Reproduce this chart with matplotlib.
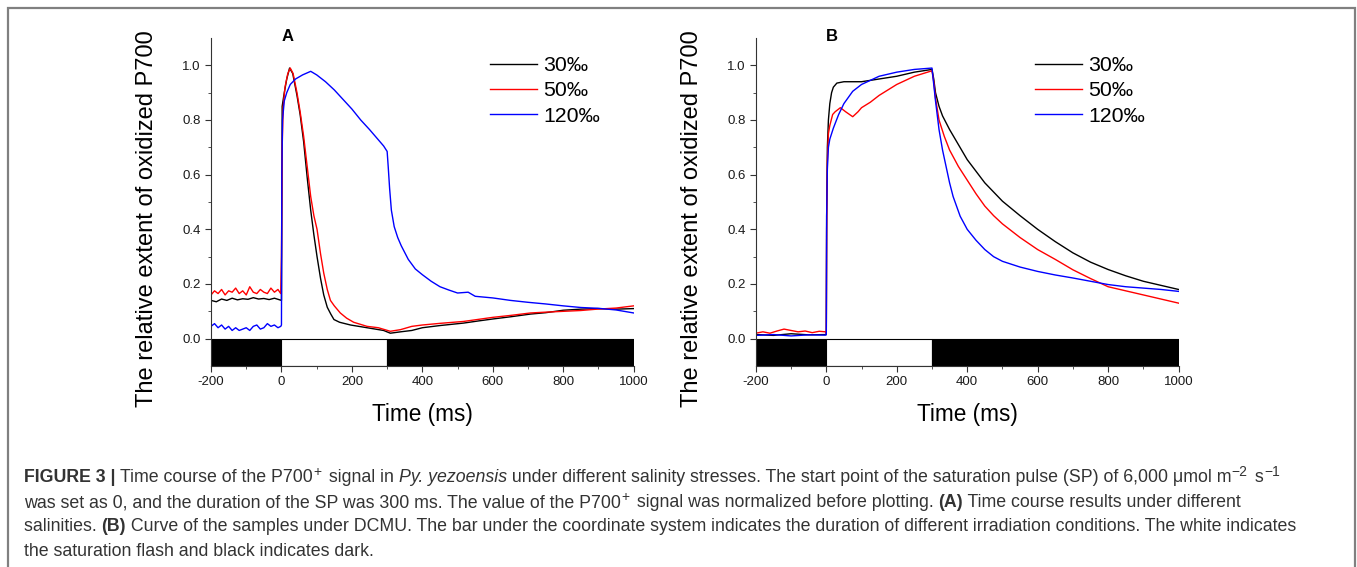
import numpy as np
import matplotlib.pyplot as plt
from matplotlib.ticker import MultipleLocator, FixedLocator
from matplotlib.patches import Rectangle

plt.rcParams['font.family'] = ['Liberation Sans', 'DejaVu Sans']
plt.rcParams['axes.unicode_minus'] = False

labels = ['30‰', '50‰', '120‰']
colors = ['black', 'red', 'blue']

# bar under the axes: dark / saturation flash / dark
bar_start = [-200, 0, 300]
bar_end = [0, 300, 1000]
bar_color = ['black', 'white', 'black']

# ---- panel A ----
t_a_30 = [-200, -185, -170, -155, -140, -125, -110, -95, -80, -65, -50, -35, -20, -5, 0,
          2, 8, 15, 23, 32, 44, 53, 63, 73, 83, 92, 101, 111, 120, 130, 140, 149, 165,
          196, 243, 290, 309, 338, 370, 400, 450, 517, 560, 600, 650, 707, 750, 800,
          850, 896, 950, 1000]
y_a_30 = [0.14, 0.135, 0.145, 0.14, 0.148, 0.142, 0.146, 0.144, 0.15, 0.145, 0.147, 0.143, 0.148, 0.142, 0.14,
          0.85, 0.9, 0.95, 0.99, 0.97, 0.89, 0.82, 0.72, 0.59, 0.47, 0.38, 0.3, 0.22, 0.16, 0.115, 0.09, 0.07, 0.06,
          0.05, 0.04, 0.03, 0.02, 0.025, 0.03, 0.04, 0.048, 0.057, 0.065, 0.072, 0.08, 0.09, 0.095, 0.104,
          0.108, 0.11, 0.108, 0.11]

t_a_50 = [-200, -190, -180, -170, -160, -150, -140, -130, -120, -110, -100, -90, -80, -70, -60, -50,
          -40, -30, -20, -10, -2, 0, 2, 5, 10, 18, 25, 33, 44, 53, 63, 73, 83, 92, 101, 111, 120,
          130, 139, 150, 167, 185, 205, 243, 275, 309, 338, 370, 400, 450, 517, 600, 650, 707, 750,
          800, 850, 896, 950, 1000]
y_a_50 = [0.16, 0.175, 0.165, 0.18, 0.16, 0.175, 0.17, 0.185, 0.165, 0.175, 0.16, 0.19, 0.17, 0.165, 0.18, 0.17,
          0.165, 0.185, 0.17, 0.18, 0.165, 0.3, 0.7, 0.85, 0.92, 0.97, 0.99, 0.97, 0.9, 0.83, 0.74, 0.63, 0.52, 0.45, 0.4, 0.31, 0.24,
          0.18, 0.14, 0.12, 0.094, 0.075, 0.06, 0.045, 0.04, 0.027, 0.033, 0.045, 0.05, 0.056, 0.063, 0.078, 0.085, 0.094, 0.097,
          0.1, 0.103, 0.108, 0.112, 0.12]

t_a_120 = [-200, -190, -180, -170, -160, -150, -140, -130, -120, -110, -100, -90, -80, -70, -60, -50,
           -40, -30, -20, -10, -2, 0, 1, 3, 8, 15, 25, 40, 60, 83, 100, 125, 150, 175, 200, 225, 250,
           270, 290, 300, 303, 307, 312, 320, 330, 340, 360, 380, 400, 425, 450, 475, 500, 530, 550, 600,
           650, 700, 750, 800, 850, 900, 950, 1000]
y_a_120 = [0.045, 0.055, 0.04, 0.05, 0.035, 0.045, 0.03, 0.04, 0.03, 0.035, 0.04, 0.03, 0.045, 0.05, 0.035, 0.04,
           0.055, 0.045, 0.05, 0.04, 0.045, 0.05, 0.6, 0.8, 0.87, 0.9, 0.93, 0.95, 0.965, 0.978, 0.965, 0.94, 0.91, 0.875, 0.84, 0.8, 0.765,
           0.735, 0.705, 0.685, 0.63, 0.55, 0.47, 0.41, 0.37, 0.34, 0.29, 0.255, 0.234, 0.21, 0.19, 0.178, 0.167, 0.17, 0.155, 0.149,
           0.14, 0.133, 0.127, 0.12, 0.114, 0.111, 0.105, 0.094]

# ---- panel B ----
t_b_30 = [-200, -150, -100, -50, -2, 0, 1, 3, 6, 10, 15, 20, 30, 50, 100, 150, 200, 250, 300,
          305, 310, 320, 330, 350, 375, 400, 450, 500, 550, 600, 650, 700, 750, 800, 850, 900, 950, 1000]
y_b_30 = [0.015, 0.012, 0.018, 0.014, 0.015, 0.015, 0.45, 0.7, 0.8, 0.86, 0.9, 0.92, 0.935, 0.94, 0.94, 0.95, 0.96, 0.975, 0.985,
          0.95, 0.9, 0.85, 0.815, 0.765, 0.71, 0.655, 0.57, 0.503, 0.45, 0.4, 0.355, 0.314, 0.28, 0.253, 0.23, 0.21, 0.195, 0.18]

t_b_50 = [-200, -180, -160, -140, -120, -100, -80, -60, -40, -20, -2, 0, 1, 3, 6, 10, 18, 25, 40, 55, 75, 90,
          100, 125, 150, 175, 200, 225, 250, 275, 300, 305, 310, 320, 335, 350, 375, 400, 425, 450, 475,
          500, 550, 600, 650, 700, 750, 800, 850, 900, 950, 1000]
y_b_50 = [0.02, 0.025, 0.02, 0.028, 0.035, 0.03, 0.025, 0.028, 0.022, 0.027, 0.025, 0.02, 0.4, 0.65, 0.75, 0.78, 0.82, 0.83, 0.845, 0.83, 0.812, 0.83,
          0.845, 0.865, 0.89, 0.91, 0.93, 0.945, 0.96, 0.97, 0.98, 0.94, 0.88, 0.8, 0.74, 0.69, 0.63, 0.58, 0.53, 0.485, 0.45,
          0.42, 0.37, 0.326, 0.29, 0.252, 0.22, 0.19, 0.175, 0.16, 0.145, 0.13]

t_b_120 = [-200, -150, -100, -50, -2, 0, 1, 3, 6, 10, 20, 35, 50, 75, 100, 125, 150, 200, 250, 300,
           305, 310, 320, 330, 340, 350, 360, 380, 400, 425, 450, 475, 500, 550, 600, 650, 700, 750,
           800, 850, 900, 950, 1000]
y_b_120 = [0.012, 0.015, 0.01, 0.014, 0.013, 0.015, 0.45, 0.62, 0.7, 0.73, 0.77, 0.82, 0.86, 0.905, 0.93, 0.945, 0.96, 0.975, 0.985, 0.99,
           0.93, 0.87, 0.765, 0.69, 0.63, 0.57, 0.52, 0.448, 0.4, 0.36, 0.326, 0.3, 0.283, 0.262, 0.246, 0.233, 0.222, 0.21,
           0.198, 0.19, 0.185, 0.18, 0.173]

panels = [
    ('A', [(t_a_30, y_a_30), (t_a_50, y_a_50), (t_a_120, y_a_120)]),
    ('B', [(t_b_30, y_b_30), (t_b_50, y_b_50), (t_b_120, y_b_120)]),
]

fig = plt.figure(figsize=(13.57, 5.67), dpi=100)
axes_left = [0.1555, 0.557]

for (letter, series), left in zip(panels, axes_left):
    ax = fig.add_axes([left, 0.3545, 0.3115, 0.5785])
    for (t, y), lab, c in zip(series, labels, colors):
        ax.plot(t, y, color=c, lw=1.0, label=lab)
    for s, e, c in zip(bar_start, bar_end, bar_color):
        ax.barh(-0.05, e - s, left=s, height=0.1, color=c, edgecolor='black', lw=0.8)

    ax.set_xlim(-200, 1000)
    ax.set_ylim(-0.1, 1.1)
    ax.xaxis.set_major_locator(MultipleLocator(200))
    ax.xaxis.set_minor_locator(MultipleLocator(100))
    ax.yaxis.set_major_locator(FixedLocator([0.0, 0.2, 0.4, 0.6, 0.8, 1.0]))
    ax.yaxis.set_minor_locator(FixedLocator([0.1, 0.3, 0.5, 0.7, 0.9]))
    ax.yaxis.set_major_formatter(plt.FormatStrFormatter('%.1f'))
    ax.tick_params(which='both', direction='out', labelsize=9.5, color='#333333', labelcolor='#1a1a1a')
    ax.tick_params(which='major', length=4)
    ax.tick_params(which='minor', length=2.5)
    for side in ['top', 'right']:
        ax.spines[side].set_visible(False)
    for side in ['left', 'bottom']:
        ax.spines[side].set_color('#333333')

    ax.set_xlabel('Time (ms)', fontsize=16.3)
    ax.set_ylabel('The relative extent of oxidized P700', fontsize=17)
    ax.xaxis.set_label_coords(0.5, -0.149)
    ax.xaxis.label.set_va('center')
    ax.yaxis.set_label_coords(-0.152, 0.45)
    ax.yaxis.label.set_va('center')

    ax.text(0.18, 1.006, letter, transform=ax.transAxes, fontsize=12, fontweight='bold',
            ha='center', va='center')
    ax.legend(loc='upper left', bbox_to_anchor=(0.661, 0.945), frameon=False, fontsize=15.3,
              handlelength=2.2, handletextpad=0.28, labelspacing=0.3, borderpad=0, borderaxespad=0)

# outer frame
fig.patches.append(Rectangle((8 / 1357, -0.1), 1347 / 1357, 1.1 - 8 / 567, transform=fig.transFigure,
                             fill=False, edgecolor='#808080', lw=1.6))

# caption, written run by run
cap_lines = [
    [('FIGURE 3 | ', 'bold', 'normal', 0), ('Time course of the P700', 'normal', 'normal', 0), ('+', 'normal', 'normal', 1),
     (' signal in ', 'normal', 'normal', 0), ('Py. yezoensis', 'normal', 'italic', 0),
     (' under different salinity stresses. The start point of the saturation pulse (SP) of 6,000 \u03bcmol m', 'normal', 'normal', 0),
     ('\u22122', 'normal', 'normal', 1), (' s', 'normal', 'normal', 0), ('\u22121', 'normal', 'normal', 1)],
    [('was set as 0, and the duration of the SP was 300 ms. The value of the P700', 'normal', 'normal', 0), ('+', 'normal', 'normal', 1),
     (' signal was normalized before plotting. ', 'normal', 'normal', 0), ('(A)', 'bold', 'normal', 0),
     (' Time course results under different', 'normal', 'normal', 0)],
    [('salinities. ', 'normal', 'normal', 0), ('(B)', 'bold', 'normal', 0),
     (' Curve of the samples under DCMU. The bar under the coordinate system indicates the duration of different irradiation conditions. The white indicates', 'normal', 'normal', 0)],
    [('the saturation flash and black indicates dark.', 'normal', 'normal', 0)],
]
cap_y = [482, 507, 531, 556]
cap_size = 12.8

renderer = fig.canvas.get_renderer()
for runs, yb in zip(cap_lines, cap_y):
    x = 24
    for txt, w, st, sup in runs:
        size = cap_size * 0.78 if sup else cap_size
        ypix = yb - (6 if sup else 0)
        t = fig.text(x / 1357, 1 - ypix / 567, txt, fontsize=size, fontweight=w, fontstyle=st,
                     color='#333333', ha='left', va='baseline')
        x += t.get_window_extent(renderer).width + (3 if sup else 0)

fig.savefig('out.png', dpi=100)
